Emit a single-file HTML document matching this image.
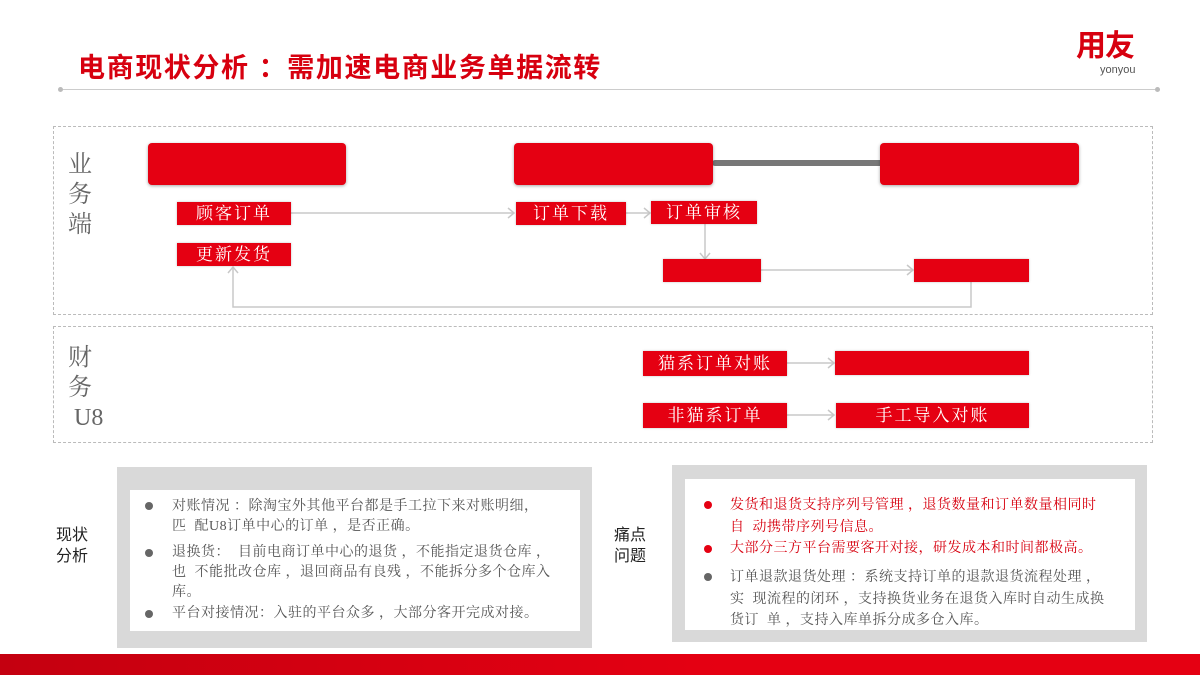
<!DOCTYPE html>
<html><head><meta charset="utf-8"><style>
*{margin:0;padding:0;box-sizing:border-box}
body{width:1200px;height:675px;position:relative;overflow:hidden;background:#fff;font-family:"Liberation Sans","Noto Sans CJK SC",sans-serif}
.a{position:absolute}
.r{position:absolute;background:#e50012;color:#fff;font-family:"Liberation Serif","Noto Serif CJK SC",serif;font-size:17px;text-align:center;letter-spacing:2px;box-shadow:0 0 2px rgba(0,0,0,.25)}
.big{border-radius:4px;box-shadow:0 1px 3px rgba(0,0,0,.35)}
.t{position:absolute;font-size:14px;white-space:pre;color:#555;line-height:20px;letter-spacing:0.5px;font-family:"Liberation Serif","Noto Serif CJK SC",serif}
.d{position:absolute;width:8px;height:8px;border-radius:50%;background:#666}
.lbl{position:absolute;font-size:24px;color:#666;font-family:"Liberation Serif","Noto Serif CJK SC",serif;line-height:30px}
</style></head><body>
<div class="a" style="left:78px;top:46px;font-size:27px;font-weight:bold;color:#d7000f;letter-spacing:1.6px;white-space:nowrap">电商现状分析 ：需加速电商业务单据流转</div>
<div class="a" style="left:60px;top:89px;width:1100px;height:1px;background:#ccc"></div>
<div class="a" style="left:58px;top:87px;width:5px;height:5px;border-radius:50%;background:#bbb"></div>
<div class="a" style="left:1155px;top:87px;width:5px;height:5px;border-radius:50%;background:#bbb"></div>
<div class="a" style="left:1076px;top:27px;font-size:30px;font-weight:bold;color:#d7000f;letter-spacing:-1px;line-height:40px">用友</div>
<div class="a" style="left:1100px;top:64px;font-size:11px;color:#555">yonyou</div>

<div class="a" style="left:53px;top:126px;width:1100px;height:189px;border:1px dashed #bbb"></div>
<div class="a" style="left:53px;top:326px;width:1100px;height:117px;border:1px dashed #bbb"></div>
<div class="lbl" style="left:68px;top:150px;width:30px">业<br>务<br>端</div>
<div class="lbl" style="left:68px;top:343px;width:40px">财<br>务<br>&nbsp;U8</div>

<div class="a" style="left:712px;top:160px;width:172px;height:6px;background:#777;border-radius:3px"></div>
<div class="r big" style="left:148px;top:143px;width:198px;height:42px"></div>
<div class="r big" style="left:514px;top:143px;width:199px;height:42px"></div>
<div class="r big" style="left:880px;top:143px;width:199px;height:42px"></div>

<svg class="a" style="left:0;top:0" width="1200" height="675">
<g stroke="#c8c8c8" stroke-width="1.5" fill="none">
<path d="M291 213H514M508 208l6 5-6 5"/>
<path d="M626 213H650M644 208l6 5-6 5"/>
<path d="M705 224V259M700 253l5 6 5-6"/>
<path d="M760 270H913M907 265l6 5-6 5"/>
<path d="M971 282V307H233V267M228 273l5-6 5 6"/>
<path d="M787 363H834M828 358l6 5-6 5"/>
<path d="M787 415H834M828 410l6 5-6 5"/>
</g></svg>

<div class="r" style="left:177px;top:202px;width:114px;height:23px;line-height:23px">顾客订单</div>
<div class="r" style="left:177px;top:243px;width:114px;height:23px;line-height:23px">更新发货</div>
<div class="r" style="left:516px;top:202px;width:110px;height:23px;line-height:23px">订单下载</div>
<div class="r" style="left:651px;top:201px;width:106px;height:23px;line-height:23px">订单审核</div>
<div class="r" style="left:663px;top:259px;width:98px;height:23px"></div>
<div class="r" style="left:914px;top:259px;width:115px;height:23px"></div>
<div class="r" style="left:643px;top:351px;width:144px;height:25px;line-height:25px">猫系订单对账</div>
<div class="r" style="left:835px;top:351px;width:194px;height:24px"></div>
<div class="r" style="left:643px;top:403px;width:144px;height:25px;line-height:25px">非猫系订单</div>
<div class="r" style="left:836px;top:403px;width:193px;height:25px;line-height:25px">手工导入对账</div>

<div class="a" style="left:56px;top:525px;font-size:16px;line-height:21px;color:#222">现状<br>分析</div>
<div class="a" style="left:614px;top:525px;font-size:16px;line-height:21px;color:#222">痛点<br>问题</div>

<div class="a" style="left:117px;top:467px;width:475px;height:181px;background:#d9d9d9"></div>
<div class="a" style="left:130px;top:490px;width:450px;height:141px;background:#fff"></div>
<div class="d" style="left:145px;top:502px"></div>
<div class="d" style="left:145px;top:549px"></div>
<div class="d" style="left:145px;top:610px"></div>
<div class="t" style="left:172px;top:497px">对账情况 ：除淘宝外其他平台都是手工拉下来对账明细，
匹  配U8订单中心的订单 ，是否正确。</div>
<div class="t" style="left:172px;top:543px">退换货：  目前电商订单中心的退货 ，不能指定退货仓库 ，
也  不能批改仓库 ，退回商品有良残 ，不能拆分多个仓库入
库。</div>
<div class="t" style="left:172px;top:604px">平台对接情况：入驻的平台众多 ，大部分客开完成对接。</div>

<div class="a" style="left:672px;top:465px;width:475px;height:177px;background:#d9d9d9"></div>
<div class="a" style="left:685px;top:479px;width:450px;height:151px;background:#fff"></div>
<div class="d" style="left:704px;top:501px;background:#e50012"></div>
<div class="d" style="left:704px;top:545px;background:#e50012"></div>
<div class="d" style="left:704px;top:573px"></div>
<div class="t" style="left:730px;top:495px;color:#d7000f;line-height:22px">发货和退货支持序列号管理 ，退货数量和订单数量相同时
自  动携带序列号信息。</div>
<div class="t" style="left:730px;top:539px;color:#d7000f">大部分三方平台需要客开对接，研发成本和时间都极高。</div>
<div class="t" style="left:730px;top:567px;line-height:21.5px">订单退款退货处理 ：系统支持订单的退款退货流程处理 ，
实  现流程的闭环 ，支持换货业务在退货入库时自动生成换
货订  单 ，支持入库单拆分成多仓入库。</div>

<div class="a" style="left:0;top:654px;width:1200px;height:21px;background:linear-gradient(90deg,#c40010,#e50012 60%,#e50012)"></div>
</body></html>
